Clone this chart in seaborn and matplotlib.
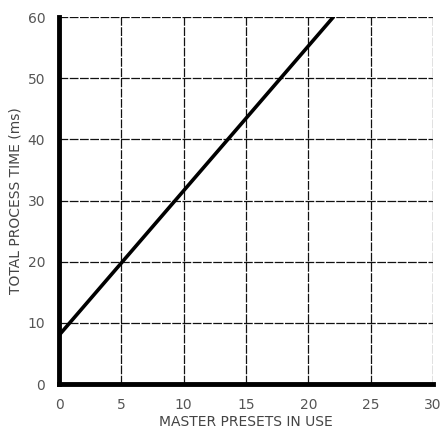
import numpy as np
import pandas as pd
import matplotlib
matplotlib.use('Agg')
import matplotlib.pyplot as plt
import seaborn as sns

# data
presets = [0, 22]
process_time = [8, 60]

x_ticks = [0, 5, 10, 15, 20, 25, 30]
y_ticks = [0, 10, 20, 30, 40, 50, 60]

df = pd.DataFrame({'presets': presets, 'time': process_time})

sns.set_style('white')
plt.rcParams['font.family'] = ['DejaVu Sans']

fig = plt.figure(figsize=(4.41, 4.37), dpi=100)
ax = fig.add_axes([0.134, 0.121, 0.848, 0.84])

sns.lineplot(data=df, x='presets', y='time', ax=ax, color='black', linewidth=2.6)

ax.set_xlim(0, 30)
ax.set_ylim(0, 60)
ax.set_xticks(x_ticks)
ax.set_yticks(y_ticks)
ax.grid(True, color='#111111', linestyle=(0, (7, 1.2)), linewidth=0.9)
ax.set_axisbelow(True)

for s in ['top', 'right']:
    ax.spines[s].set_visible(False)
for s in ['left', 'bottom']:
    ax.spines[s].set_linewidth(3.5)
    ax.spines[s].set_color('black')

ax.tick_params(axis='both', length=4, width=0.8, color='black', labelsize=10,
               labelcolor='#555555', pad=6, direction='out')
ax.set_xlabel('MASTER PRESETS IN USE', fontsize=10, color='#444444', labelpad=2)
ax.set_ylabel('TOTAL PROCESS TIME (ms)', fontsize=10, color='#444444', labelpad=4)

fig.savefig('out.png', dpi=100)
